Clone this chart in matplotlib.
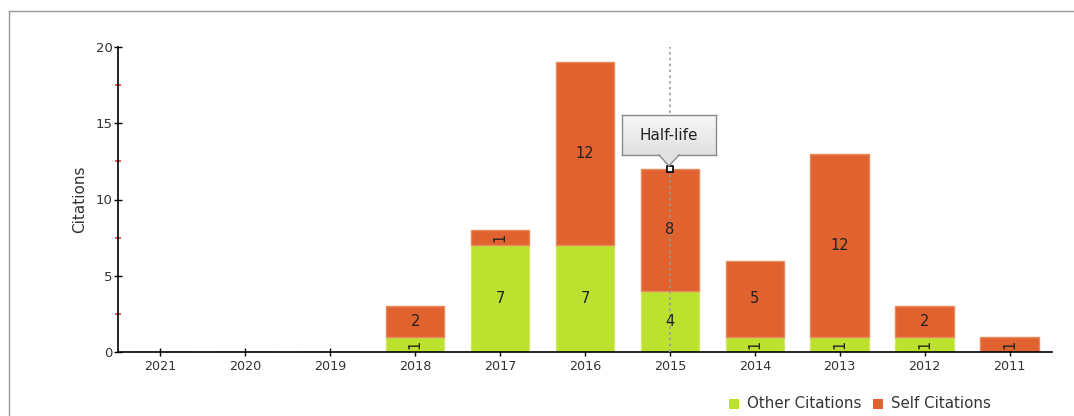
import matplotlib
matplotlib.use("Agg")
import matplotlib.pyplot as plt
from matplotlib.patches import Polygon, Rectangle
from matplotlib.lines import Line2D
import numpy as np

years = ["2021", "2020", "2019", "2018", "2017", "2016", "2015", "2014", "2013", "2012", "2011"]
other_citations = [0, 0, 0, 1, 7, 7, 4, 1, 1, 1, 0]
self_citations = [0, 0, 0, 2, 1, 12, 8, 5, 12, 2, 1]
half_life_year = "2015"
half_life_value = 12

GREEN = "#bde12f"
ORANGE = "#e0622f"
GREEN_EDGE = "#cfe86a"
ORANGE_EDGE = "#e98a5e"

plt.rcParams["font.family"] = ["DejaVu Sans"]

fig = plt.figure(figsize=(10.74, 4.16), dpi=100)
ax = fig.add_axes([118 / 1074, 1 - 352 / 416, (1052 - 118) / 1074, (352 - 47) / 416])

x = np.arange(len(years))
width = 0.69
ax.bar(x, other_citations, width, color=GREEN, edgecolor=GREEN_EDGE, linewidth=1, zorder=2)
ax.bar(x, self_citations, width, bottom=other_citations, color=ORANGE, edgecolor=ORANGE_EDGE, linewidth=1, zorder=2)

for i in range(len(years)):
    o = other_citations[i]
    s = self_citations[i]
    if o > 0:
        rot = 90 if o < 2 else 0
        ax.text(x[i], o / 2, str(o), ha="center", va="center", fontsize=10.5, rotation=rot, color="#222222", zorder=4)
    if s > 0:
        rot = 90 if s < 2 else 0
        ax.text(x[i], o + s / 2, str(s), ha="center", va="center", fontsize=10.5, rotation=rot, color="#222222", zorder=4)

ax.set_xlim(-0.5, len(years) - 0.5)
ax.set_ylim(0, 20)
ax.set_xticks(x)
ax.set_xticklabels(years, fontsize=9.2, color="#333333")
ax.set_yticks([0, 5, 10, 15, 20])
ax.set_yticklabels(["0", "5", "10", "15", "20"], fontsize=9.5, color="#333333")
ax.set_yticks([2.5, 7.5, 12.5, 17.5], minor=True)
ax.tick_params(axis="y", which="major", direction="inout", length=6, width=1, colors="black", labelcolor="#333333", pad=1)
ax.tick_params(axis="y", which="minor", direction="inout", length=4, width=1.2, color="#ff3030")
ax.tick_params(axis="x", which="major", direction="inout", length=6, width=1, pad=3)
ax.set_ylabel("Citations", fontsize=11, color="#333333", labelpad=6)

for sp in ["top", "right"]:
    ax.spines[sp].set_visible(False)
ax.spines["left"].set_linewidth(1.2)
ax.spines["bottom"].set_linewidth(1.2)

# half-life line
hx = years.index(half_life_year)
ax.axvline(hx, color="#999999", linestyle=(0, (1.5, 2)), linewidth=1.2, zorder=3)
ax.plot([hx], [half_life_value], marker="s", markersize=5, markerfacecolor="white",
        markeredgecolor="black", markeredgewidth=1.2, zorder=6, clip_on=False)

def px(xp, yp):
    return (xp / 1074, 1 - yp / 416)

# tooltip
tl, tr, tt, tb = 622, 716, 115, 155
grad = np.linspace(0.97, 0.88, 64).reshape(-1, 1)
gax = fig.add_axes([tl / 1074, 1 - tb / 416, (tr - tl) / 1074, (tb - tt) / 416], zorder=10)
gax.imshow(np.dstack([grad, grad, grad]), aspect="auto", extent=(0, 1, 0, 1))
gax.set_xticks([])
gax.set_yticks([])
for sp in gax.spines.values():
    sp.set_color("#8a8a8a")
    sp.set_linewidth(1)
gax.text(0.5, 0.5, "Half-life", ha="center", va="center", fontsize=11, color="#222222",
         transform=gax.transAxes)
tri = Polygon([px(659, tb - 1), px(679, tb - 1), px(669, 166)], closed=True,
              transform=fig.transFigure, facecolor="#e2e2e2", edgecolor="none", zorder=11)
fig.patches.append(tri)
fig.lines.append(Line2D([659 / 1074, 669 / 1074, 679 / 1074], [1 - tb / 416, 1 - 166 / 416, 1 - tb / 416],
                        transform=fig.transFigure, color="#8a8a8a", linewidth=1, zorder=12))

# legend
legend_items = [("Other Citations", GREEN, 729), ("Self Citations", ORANGE, 873)]
for label, col, lx in legend_items:
    fig.patches.append(Rectangle(px(lx, 409), 10 / 1074, 10 / 416, transform=fig.transFigure,
                                 facecolor=col, edgecolor="none"))
    fig.text((lx + 18) / 1074, 1 - 403.5 / 416, label, ha="left", va="center", fontsize=10.8, color="#333333")

# outer border lines
fig.lines.append(Line2D([9 / 1074, 1.0], [1 - 10.5 / 416, 1 - 10.5 / 416], transform=fig.transFigure,
                        color="#999999", linewidth=1))
fig.lines.append(Line2D([9 / 1074, 9 / 1074], [1 - 10.5 / 416, 0], transform=fig.transFigure,
                        color="#999999", linewidth=1))

fig.savefig("out.png", dpi=100)
